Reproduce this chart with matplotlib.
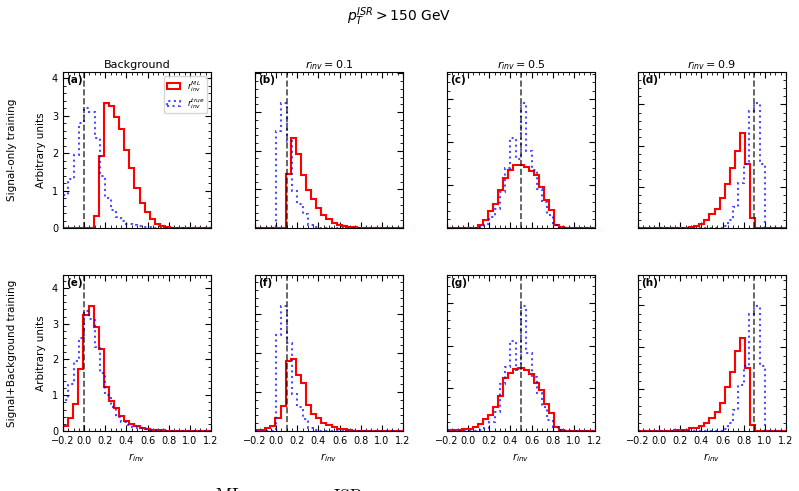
import numpy as np
import matplotlib.pyplot as plt
from matplotlib.ticker import AutoMinorLocator, MultipleLocator

# bin edges: ML prediction (red) and truth (blue)
ml_edges = np.linspace(-0.2, 1.2, 30)
true_edges = np.linspace(-0.2, 1.2, 29)

col_titles = ["Background", "$r_{inv} = 0.1$", "$r_{inv} = 0.5$", "$r_{inv} = 0.9$"]
row_titles = ["Signal-only training", "Signal+Background training"]
panel_tags = ["(a)", "(b)", "(c)", "(d)", "(e)", "(f)", "(g)", "(h)"]
r_inv_true = [0.0, 0.1, 0.5, 0.9]

# signal-only training
ml_a = [0, 0, 0, 0, 0, 0, 0.32, 1.93, 3.33, 3.26, 2.97, 2.65, 2.07, 1.59, 1.08,
        0.67, 0.43, 0.23, 0.1, 0.05, 0.03, 0.01, 0.01, 0, 0, 0, 0, 0, 0]
true_a = [0.88, 1.3, 1.95, 2.8, 3.2, 3.1, 2.4, 1.4, 0.8, 0.47, 0.3, 0.18, 0.12, 0.08,
          0.05, 0.03, 0.02, 0.01, 0.01, 0.01, 0, 0, 0, 0, 0, 0, 0, 0]
ml_b = [0, 0, 0, 0, 0, 0, 1.40, 2.32, 1.92, 1.37, 0.98, 0.76, 0.52, 0.33, 0.22,
        0.13, 0.09, 0.05, 0.03, 0.02, 0.01, 0.01, 0, 0, 0, 0, 0, 0, 0]
true_b = [0, 0, 0, 0, 2.5, 3.23, 2.24, 0.95, 0.63, 0.37, 0.09, 0.03, 0.01,
          0, 0, 0, 0, 0, 0, 0, 0, 0, 0, 0, 0, 0, 0, 0]
ml_c = [0, 0, 0, 0, 0, 0, 0.06, 0.18, 0.4, 0.57, 0.88, 1.16, 1.35, 1.47, 1.47,
        1.42, 1.33, 1.23, 0.95, 0.65, 0.41, 0.06, 0.02, 0, 0, 0, 0, 0, 0]
true_c = [0, 0, 0, 0, 0, 0, 0.03, 0.1, 0.25, 0.45, 0.85, 1.4, 2.1, 1.6, 2.91,
          1.8, 1.35, 0.9, 0.6, 0.3, 0.06, 0.01, 0, 0, 0, 0, 0, 0]
ml_d = [0, 0, 0, 0, 0, 0, 0, 0, 0, 0.01, 0.02, 0.06, 0.1, 0.19, 0.33, 0.46,
        0.72, 1.06, 1.46, 1.88, 2.3, 1.55, 0.25, 0, 0, 0, 0, 0, 0]
true_d = [0, 0, 0, 0, 0, 0, 0, 0, 0, 0, 0, 0, 0, 0, 0, 0,
          0.05, 0.2, 0.5, 1.1, 1.55, 2.85, 3.03, 1.55, 0, 0, 0, 0]

# signal+background training
ml_e = [0.14, 0.35, 0.75, 1.74, 3.23, 3.49, 2.92, 2.3, 1.22, 0.85, 0.63, 0.41,
        0.28, 0.19, 0.13, 0.09, 0.06, 0.04, 0.03, 0.02, 0.01, 0.01, 0.01,
        0, 0, 0, 0, 0, 0]
true_e = [0.87, 1.32, 1.95, 2.61, 3.35, 3.13, 2.36, 1.62, 1.0, 0.68, 0.4, 0.25,
          0.17, 0.1, 0.07, 0.05, 0.03, 0.02, 0.01, 0.01, 0, 0, 0, 0, 0, 0, 0, 0]
ml_f = [0.03, 0.03, 0.08, 0.12, 0.32, 0.64, 1.78, 1.84, 1.43, 1.22, 0.66, 0.43,
        0.32, 0.21, 0.15, 0.09, 0.06, 0.04, 0.02, 0.01, 0.01,
        0, 0, 0, 0, 0, 0, 0, 0]
true_f = [0, 0, 0, 0, 2.46, 3.19, 2.25, 0.95, 0.62, 0.3, 0.08, 0.03, 0.01,
          0, 0, 0, 0, 0, 0, 0, 0, 0, 0, 0, 0, 0, 0, 0]
ml_g = [0.02, 0.02, 0.03, 0.04, 0.05, 0.1, 0.17, 0.27, 0.37, 0.56, 0.82, 1.25,
        1.35, 1.44, 1.47, 1.42, 1.33, 1.12, 0.96, 0.64, 0.41, 0.1, 0.02, 0.01,
        0, 0, 0, 0, 0]
true_g = [0, 0, 0, 0, 0, 0, 0.02, 0.08, 0.2, 0.45, 1.1, 1.5, 2.1, 1.43, 2.92,
          1.82, 1.27, 0.88, 0.56, 0.25, 0.09, 0.02, 0, 0, 0, 0, 0, 0]
ml_h = [0, 0, 0, 0.01, 0.01, 0.01, 0.01, 0.02, 0.02, 0.03, 0.06, 0.08, 0.12,
        0.18, 0.3, 0.46, 0.66, 1.06, 1.42, 1.9, 2.22, 1.5, 0.14, 0, 0, 0, 0, 0, 0]
true_h = [0, 0, 0, 0, 0, 0, 0, 0, 0, 0, 0, 0, 0, 0, 0, 0,
          0.05, 0.2, 0.5, 1.1, 1.55, 2.8, 2.98, 1.55, 0, 0, 0, 0]

ml_hists = [[ml_a, ml_b, ml_c, ml_d], [ml_e, ml_f, ml_g, ml_h]]
true_hists = [[true_a, true_b, true_c, true_d], [true_e, true_f, true_g, true_h]]

W, H = 799, 491
fig = plt.figure(figsize=(W / 100, H / 100), dpi=100)

col_left = [63, 255, 447, 638]
row_top = [72, 275]
ax_w, ax_h = 148, 156

ml_centers = 0.5 * (ml_edges[1:] + ml_edges[:-1])
true_centers = 0.5 * (true_edges[1:] + true_edges[:-1])

for r in range(2):
    for c in range(4):
        ax = fig.add_axes([col_left[c] / W, (H - row_top[r] - ax_h) / H, ax_w / W, ax_h / H])
        ml = np.array(ml_hists[r][c])
        tr = np.array(true_hists[r][c])
        ax.hist(ml_centers, bins=ml_edges, weights=ml, histtype="step",
                color="red", lw=1.5, label="$r_{inv}^{ML}$")
        ax.hist(true_centers, bins=true_edges, weights=tr, histtype="step",
                color="blue", alpha=0.7, ls=":", lw=1.5, label="$r_{inv}^{true}$")
        ax.axvline(r_inv_true[c], color="black", ls="--", lw=1.2, alpha=0.7)
        ax.set_xlim(-0.2, 1.2)
        ax.set_ylim(0, 1.25 * max(ml.max(), tr.max()))
        ax.xaxis.set_major_locator(MultipleLocator(0.2))
        ax.yaxis.set_major_locator(MultipleLocator(1))
        ax.xaxis.set_minor_locator(AutoMinorLocator())
        ax.yaxis.set_minor_locator(AutoMinorLocator())
        ax.tick_params(which="both", direction="in", top=True, right=True, labelsize=7)
        ax.tick_params(which="major", length=4)
        ax.tick_params(which="minor", length=2)
        if c > 0:
            ax.set_yticklabels([])
        else:
            ax.set_ylabel("Arbitrary units", fontsize=7.5)
        if r == 0:
            ax.set_xticklabels([])
            ax.set_title(col_titles[c], fontsize=8, pad=3)
        else:
            ax.set_xlabel("$r_{inv}$", fontsize=7.5)
        ax.text(0.02, 0.98, panel_tags[4 * r + c], transform=ax.transAxes,
                ha="left", va="top", fontsize=7.5, fontweight="bold")
        if r == 0 and c == 0:
            ax.legend(loc="upper right", fontsize=6, handlelength=1.6,
                      borderpad=0.3, labelspacing=0.3)

for r in range(2):
    yc = (H - row_top[r] - ax_h / 2) / H
    fig.text(12 / W, yc, row_titles[r], rotation=90, ha="center", va="center", fontsize=7.5)

fig.suptitle("$p_T^{ISR} > 150$ GeV", y=0.988, fontsize=10)

# caption text cut off at the bottom edge of the image, as in the original
fig.text(203 / W, 4 / H, r"$r_{\rm inv}^{\rm ML}$", va="top", ha="left",
         fontsize=18, math_fontfamily="cm")
fig.text(318 / W, 4 / H, r"$p_T^{\rm ISR}$", va="top", ha="left",
         fontsize=18, math_fontfamily="cm")

fig.savefig("out.png", dpi=100)
